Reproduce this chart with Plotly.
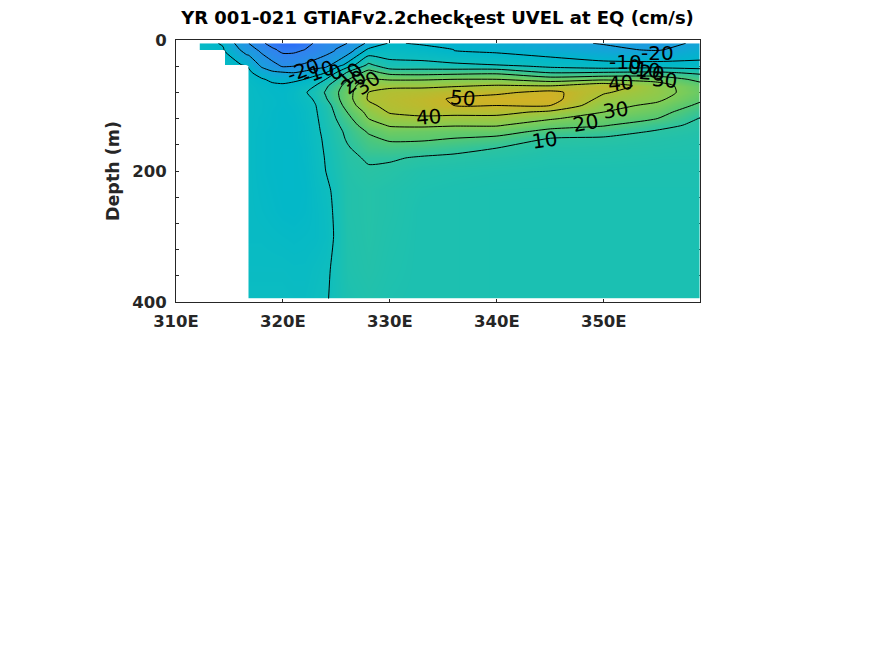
import numpy as np
import plotly.graph_objects as go

nan = np.nan

depth = [5, 15, 16, 38, 40, 50, 60, 70, 80, 90, 100, 110, 120, 130, 140, 150, 165, 180, 200, 230, 260, 300, 350, 395]

# zonal velocity (cm/s), one list per longitude
u_312_2 = [-6, -5] + [nan] * 22
u_314_4 = [-11, -9] + [nan] * 22
u_314_6 = [-13, -11, -10.5, -5] + [nan] * 20
u_316_6 = [-29, -24, -23.5, -11.5] + [nan] * 20
u_316_8 = [-30, -24, -24, -12, -11, -8, -6, -5, -5, -5, -5, -5, -5, -5, -5, -5, -5, -5, -5, -5, -5, -5, -4, -3]
u_318 = [-38, -33, -32, -22, -21, -15, -9, -7, -6.5, -6, -6, -6, -6.5, -6.5, -7, -7, -7, -7, -7, -6.5, -6, -5, -4, -3]
u_319 = [-44, -38, -38, -27, -26, -18, -12, -8, -7.5, -7, -7, -7.5, -7.5, -7.5, -8, -8, -8, -8, -8, -7.5, -7, -5.5, -4, -3]
u_320 = [-47, -42.5, -42, -32, -31, -19, -12, -9, -8, -8, -8, -8.5, -8.5, -8.5, -8.5, -8.5, -8.5, -8.5, -8.5, -8.5, -8, -6, -4, -3]
u_321 = [-47, -42, -42, -31, -30, -20, -12, -7, -6, -6, -7, -7.5, -8, -8, -8, -8, -8.5, -8.5, -8.5, -8.5, -8.5, -6.5, -4.5, -3.5]
u_322 = [-44, -40, -39.5, -29, -26, -18, -10, -4, -1, -3, -4, -5, -5, -6, -6, -6, -7, -7, -7.5, -8, -7.5, -6, -4.5, -3.5]
u_323 = [-39, -37, -37, -26, -24, -14, -6, 0, 3, 1, -0.5, -1, -1.5, -2, -2, -2.5, -3, -3.5, -4, -5, -5.5, -5.5, -3, -2]
u_324 = [-35, -33, -33, -24, -22, -10, 0, 8, 11, 9, 5, 4, 3.5, 3, 2, 1.5, 1, 0.5, 0, -2, -3, -3.5, -1.5, -0.7]
u_326 = [-30, -26, -26, -7, -3, 11, 19, 24, 26, 26, 24, 20, 17, 14, 12, 11, 9, 8, 7, 6.5, 6.5, 6, 5.5, 4.5]
u_328 = [-18, -8, -7, 12, 14, 24, 31, 38, 40, 41, 38, 33, 30, 26, 21, 18, 15, 11, 9, 7.5, 7.5, 7.5, 7, 6]
u_330 = [-9, -5, -5, 3, 5, 17, 29, 38, 43, 44, 43, 41, 36, 31, 26, 22, 16, 11, 8, 6.5, 6.5, 6, 5.5, 5]
u_333 = [-11, -7, -7, 3, 5, 16, 29, 38, 44, 47, 46, 43, 38, 32, 25, 22, 15, 9, 6, 5, 4.5, 4.5, 4.5, 4.5]
u_336 = [-13, -10, -10, 1.5, 4, 17, 30, 39, 47, 51, 50, 43, 37, 31, 24, 20, 13, 8, 5.5, 4.5, 4.5, 4.5, 4.5, 4.5]
u_340 = [-15, -12.5, -12, 0, 3, 18, 30, 41, 48, 54, 50, 43, 37, 31, 24, 18, 10, 7, 5, 4, 4, 4, 4, 4]
u_345 = [-18, -15, -15, -4, -2, 10, 25, 40, 53, 54, 50, 38, 31, 24, 17, 10, 7, 5.5, 4.5, 4, 4, 4, 4, 4]
u_350 = [-20.5, -18, -18, -7, -5, 11, 28, 47, 41, 37, 33, 30, 25, 21, 14, 9, 6.5, 5.5, 4.5, 4, 4, 4, 4, 4]
u_355 = [-24, -21, -20, -7, -4, 12, 27, 34, 34, 32, 28, 24, 20, 13, 9, 7, 6, 5, 4.5, 4, 4, 4, 4, 4]
u_359 = [-18, -14, -14, -8, -5, 8, 17, 24, 25, 22, 18, 13, 9.5, 8, 7, 6, 5.5, 5, 4.5, 4, 4, 4, 4, 4]

lon = [312.2, 314.4, 314.6, 316.6, 316.8, 318, 319, 320, 321, 322, 323, 324, 326, 328, 330, 333, 336, 340, 345, 350, 355, 359]
u = [u_312_2, u_314_4, u_314_6, u_316_6, u_316_8, u_318, u_319, u_320, u_321, u_322, u_323, u_324, u_326,
     u_328, u_330, u_333, u_336, u_340, u_345, u_350, u_355, u_359]

x_ticks = [310, 320, 330, 340, 350]
x_labels = ['310E', '320E', '330E', '340E', '350E']
y_ticks = [0, 40, 80, 120, 160, 200, 240, 280, 320, 360, 400]
y_labels = ['0', '', '', '', '', '200', '', '', '', '', '400']

# contour labels: text, lon, depth, angle
contour_labels = [
    ('-20', 321.9, 46, -20), ('-10', 323.3, 49, -20), ('0', 324.9, 49, -20), ('10', 326.3, 54, -45),
    ('20', 326.6, 64, -40), ('30', 327.9, 66, -35), ('40', 333.6, 117, -5), ('50', 336.8, 89, 5),
    ('10', 344.5, 153, -8), ('20', 348.3, 127, -10), ('30', 351.1, 107, -8), ('40', 351.6, 66, -5),
    ('-10', 352.0, 34, 0), ('0', 352.9, 41, 5), ('10', 354.1, 46, 5), ('20', 354.5, 51, 5),
    ('30', 355.7, 61, 5), ('-20', 355.0, 20, 0),
]

# parula-like, colours
colors = [
    [0.0, 'rgb(40,100,250)'], [0.09, 'rgb(50,130,240)'], [0.27, 'rgb(25,160,220)'],
    [0.36, 'rgb(0,182,203)'], [0.45, 'rgb(15,190,190)'], [0.55, 'rgb(45,195,160)'],
    [0.64, 'rgb(85,200,115)'], [0.73, 'rgb(130,205,85)'], [0.82, 'rgb(170,195,55)'],
    [0.91, 'rgb(200,180,40)'], [1.0, 'rgb(225,175,35)'],
]

fig = go.Figure()
fig.add_trace(go.Contour(
    x=lon, y=depth, z=np.array(u).T,
    zmin=-50, zmax=60, colorscale=colors, showscale=False,
    autocontour=False,
    contours=dict(start=-40, end=50, size=10, coloring='heatmap'),
    line=dict(color='black', width=1, smoothing=0.6),
    hoverinfo='skip',
))

for text, x, y, angle in contour_labels:
    fig.add_annotation(x=x, y=y, text=text, textangle=angle, showarrow=False,
                       font=dict(family='DejaVu Sans', size=20, color='black'))

fig.update_layout(
    width=859, height=640,
    margin=dict(l=168, r=167, t=32, b=346),
    paper_bgcolor='white', plot_bgcolor='white',
    font=dict(family='DejaVu Sans', color='#262626'),
    title=dict(text='YR 001-021 GTIAFv2.2check<sub><span style="font-size:18px">t</span></sub>est UVEL at EQ (cm/s)',
               x=0.5, xanchor='center', y=0.985, yanchor='middle',
               font=dict(family='DejaVu Sans', size=18, color='black', weight='bold')),
    showlegend=False,
)
fig.update_xaxes(range=[310, 359], tickvals=x_ticks, ticktext=x_labels, ticks='inside', ticklen=3,
                 tickcolor='#262626', showline=True, linecolor='#262626', linewidth=1, mirror='ticks',
                 showgrid=False, zeroline=False, layer='below traces', ticklabelstandoff=4,
                 tickfont=dict(size=16.5, weight='bold', color='#262626'))
fig.update_yaxes(range=[400, 0], tickvals=y_ticks, ticktext=y_labels, ticks='inside', ticklen=3,
                 tickcolor='#262626', showline=True, linecolor='#262626', linewidth=1, mirror='ticks',
                 showgrid=False, zeroline=False, layer='below traces', ticklabelstandoff=5,
                 tickfont=dict(size=16.5, weight='bold', color='#262626'),
                 title=dict(text='Depth (m)', standoff=8, font=dict(size=17.5, weight='bold', color='#262626')))

fig.write_html("out.html")
